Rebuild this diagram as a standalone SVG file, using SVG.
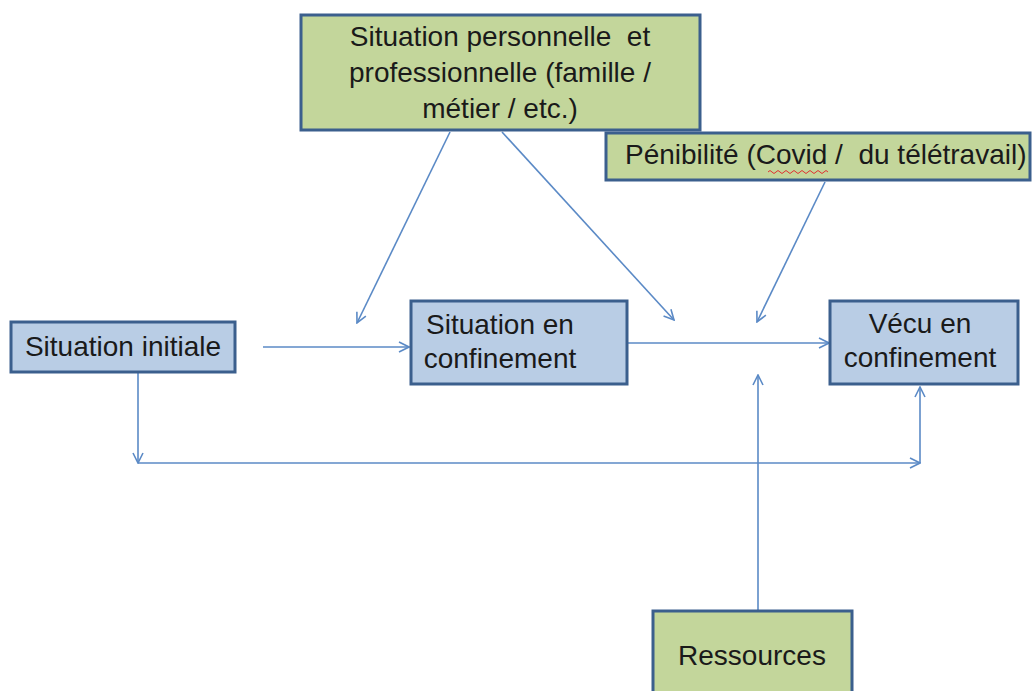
<svg xmlns="http://www.w3.org/2000/svg" width="1035" height="691" viewBox="0 0 1035 691">
<defs>
<style>
.green{fill:#C3D69B;stroke:#3B5F8D;stroke-width:3}
.blue{fill:#B9CDE5;stroke:#3B5F8D;stroke-width:3}
.t{font-family:"Liberation Sans",Arial,sans-serif;font-size:28px;fill:#1a1a1a;white-space:pre}
.c{stroke:#5B8AC6;stroke-width:1.6;fill:none}
</style>
<marker id="ah" viewBox="0 0 12 12" refX="11" refY="6" markerWidth="12" markerHeight="12" markerUnits="userSpaceOnUse" orient="auto">
<path d="M1,1 L11,6 L1,11" fill="none" stroke="#5B8AC6" stroke-width="1.6"/>
</marker>
</defs>
<rect width="1035" height="691" fill="#ffffff"/>
<g id="connectors">
<line class="c" x1="263" y1="347" x2="409" y2="347" marker-end="url(#ah)"/>
<line class="c" x1="138" y1="373" x2="138" y2="463" marker-end="url(#ah)"/>
<line class="c" x1="138" y1="463" x2="920" y2="463" marker-end="url(#ah)"/>
<line class="c" x1="920" y1="463" x2="920" y2="387" marker-end="url(#ah)"/>
<line class="c" x1="628" y1="343" x2="829" y2="343" marker-end="url(#ah)"/>
<line class="c" x1="450" y1="132" x2="357" y2="323" marker-end="url(#ah)"/>
<line class="c" x1="502" y1="132" x2="674" y2="320" marker-end="url(#ah)"/>
<line class="c" x1="825" y1="182" x2="757" y2="322" marker-end="url(#ah)"/>
<line class="c" x1="758" y1="610" x2="758" y2="375" marker-end="url(#ah)"/>
</g>
<g id="node-situation-perso">
<rect class="green" x="301" y="15" width="399" height="115"/>
<text class="t" x="500" y="46" text-anchor="middle" xml:space="preserve">Situation personnelle  et</text>
<text class="t" x="500" y="82" text-anchor="middle">professionnelle (famille /</text>
<text class="t" x="500" y="118" text-anchor="middle">métier / etc.)</text>
</g>
<g id="node-penibilite">
<rect class="green" x="606" y="133" width="424" height="47"/>
<text class="t" x="625" y="164" xml:space="preserve">Pénibilité (Covid /  du télétravail)</text>
<path d="M768,172 q2,-3 4,0 t4,0 t4,0 t4,0 t4,0 t4,0 t4,0 t4,0 t4,0 t4,0 t4,0 t4,0 t4,0 t4,0 t4,0" fill="none" stroke="#e03030" stroke-width="1"/>
</g>
<g id="node-situation-initiale">
<rect class="blue" x="11" y="322" width="224" height="50"/>
<text class="t" x="123" y="356" text-anchor="middle">Situation initiale</text>
</g>
<g id="node-situation-confinement">
<rect class="blue" x="411" y="301" width="216" height="83"/>
<text class="t" x="500" y="334" text-anchor="middle">Situation en</text>
<text class="t" x="500" y="368" text-anchor="middle">confinement</text>
</g>
<g id="node-vecu">
<rect class="blue" x="830" y="301" width="188" height="83"/>
<text class="t" x="920" y="333" text-anchor="middle">Vécu en</text>
<text class="t" x="920" y="367" text-anchor="middle">confinement</text>
</g>
<g id="node-ressources">
<rect class="green" x="653" y="611" width="199" height="90"/>
<text class="t" x="752" y="665" text-anchor="middle">Ressources</text>
</g>
</svg>
